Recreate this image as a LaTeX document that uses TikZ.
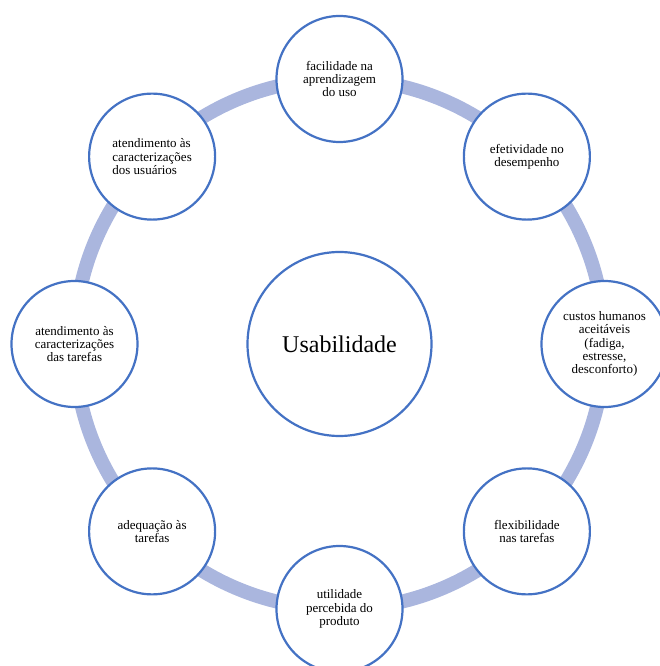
\documentclass[tikz,border=0pt]{standalone}
\usepackage{fontspec}
\setmainfont{Liberation Serif}
\usepackage{xcolor}
\definecolor{ringblue}{RGB}{170,182,222}
\definecolor{edgeblue}{RGB}{68,114,196}

\begin{document}
\begin{tikzpicture}[x=1pt, y=1pt,
    item/.style={draw=edgeblue, line width=2.2pt, circle, fill=white,
        minimum size=126pt, inner sep=0pt, align=center,
        font=\fontsize{13}{13.3}\selectfont},
    core/.style={draw=edgeblue, line width=2.2pt, circle, fill=white,
        minimum size=184pt, inner sep=0pt,
        font=\fontsize{24}{28}\selectfont}]
    \useasboundingbox (-339.5,-322) rectangle (320.5,344);

    % Ring behind the items
    \coordinate (O) at (0,0);
    \draw[ringblue, line width=14pt] (O) circle (265pt);

    % Centre
    \node[core] (U) at (O) {Usabilidade};

    % Items around the ring
    \node[item] (N) at (90:265pt) {facilidade na\\aprendizagem\\do uso};
    \node[item] (NE) at (45:265pt) {efetividade no\\desempenho};
    \node[item] (E) at (0:265pt) {custos humanos\\aceitáveis\\(fadiga,\\estresse,\\desconforto)};
    \node[item] (SE) at (-45:265pt) {flexibilidade\\nas tarefas};
    \node[item] (S) at (-90:265pt) {utilidade\\percebida do\\produto};
    \node[item] (SW) at (-135:265pt) {adequação às\\tarefas};
    \node[item] (W) at (180:265pt) {atendimento às\\caracterizações\\das tarefas};
    \node[item, align=left] (NW) at (135:265pt) {atendimento às\\caracterizações\\dos usuários};
\end{tikzpicture}
\end{document}
